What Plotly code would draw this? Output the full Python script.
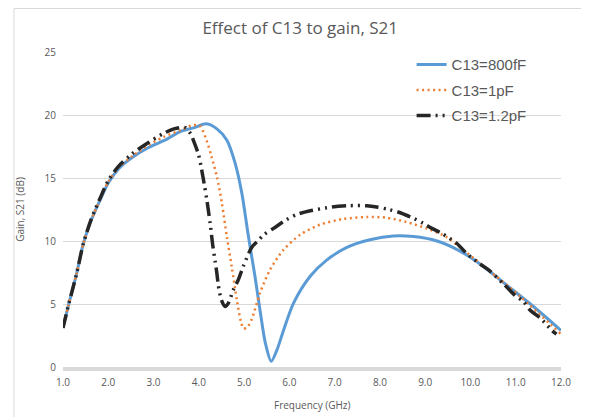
import plotly.graph_objects as go

title_text = "Effect of C13 to gain, S21"
x_title = "Frequency (GHz)"
y_title = "Gain, S21 (dB)"

x_ticks = [1, 2, 3, 4, 5, 6, 7, 8, 9, 10, 11, 12]
x_tick_labels = ["1.0", "2.0", "3.0", "4.0", "5.0", "6.0", "7.0", "8.0", "9.0", "10.0", "11.0", "12.0"]
y_ticks = [0, 5, 10, 15, 20, 25]

names = ["C13=800fF", "C13=1pF", "C13=1.2pF"]

freq_800f = [1.0, 1.12, 1.3, 1.45, 1.63, 1.82, 2.0, 2.22, 2.52, 2.88, 3.25, 3.6, 3.9, 4.17,
             4.4, 4.62, 4.8, 4.95, 5.09, 5.24, 5.36, 5.47, 5.6, 5.72, 5.87, 6.09, 6.46,
             6.83, 7.27, 7.78, 8.3, 8.74, 9.26, 9.77, 10.28, 10.8, 11.39, 12.0]
gain_800f = [3.1, 4.9, 7.4, 9.8, 11.7, 13.25, 14.6, 15.7, 16.6, 17.4, 18.0, 18.7, 19.0, 19.3,
             18.9, 18.0, 16.2, 13.8, 10.5, 7.2, 4.3, 1.9, 0.45, 1.3, 2.9, 5.05, 7.2,
             8.5, 9.5, 10.1, 10.4, 10.35, 10.0, 9.2, 8.0, 6.5, 4.8, 2.9]

freq_1p = [1.0, 1.12, 1.3, 1.45, 1.63, 1.82, 2.0, 2.22, 2.52, 2.88, 3.25, 3.6, 3.88, 4.03,
           4.17, 4.28, 4.4, 4.51, 4.62, 4.73, 4.84, 4.93, 4.99, 5.08, 5.17, 5.35, 5.57,
           5.87, 6.24, 6.68, 7.19, 7.71, 8.15, 8.59, 9.03, 9.48, 9.77, 10.36, 11.1, 12.0]
gain_1p = [3.1, 4.9, 7.4, 9.8, 11.7, 13.3, 14.7, 15.8, 16.7, 17.6, 18.3, 18.8, 19.2, 19.1,
           18.0, 16.7, 15.1, 13.0, 10.3, 7.9, 5.3, 3.6, 3.05, 3.2, 3.8, 5.85, 7.7,
           9.3, 10.5, 11.3, 11.75, 11.9, 11.85, 11.5, 11.0, 10.3, 9.5, 7.8, 5.6, 2.6]

freq_1p2 = [1.0, 1.12, 1.3, 1.45, 1.63, 1.82, 2.0, 2.22, 2.52, 2.88, 3.2, 3.45, 3.7, 3.82,
            3.9, 3.99, 4.05, 4.12, 4.18, 4.25, 4.31, 4.36, 4.4, 4.43, 4.5, 4.58, 4.65,
            4.76, 4.87, 4.98, 5.17, 5.3, 5.44, 5.65, 5.94, 6.16, 6.46, 6.94, 7.3, 7.71,
            7.93, 8.19, 8.4, 8.74, 8.96, 9.15, 9.37, 9.7, 9.92, 10.2, 10.4, 10.73, 10.98,
            11.17, 11.32, 11.54, 11.8, 11.9]
gain_1p2 = [3.1, 4.9, 7.4, 9.8, 11.8, 13.4, 14.8, 15.9, 16.9, 17.8, 18.5, 18.9, 19.0, 18.5,
            17.8, 16.9, 15.9, 14.5, 13.2, 11.4, 9.6, 8.4, 7.4, 6.5, 5.3, 4.8, 5.05,
            6.1, 6.9, 7.96, 9.5, 10.0, 10.5, 11.0, 11.7, 12.1, 12.4, 12.7, 12.8, 12.8,
            12.7, 12.5, 12.3, 11.8, 11.4, 11.0, 10.6, 9.8, 9.0, 8.2, 7.7, 6.6, 5.7,
            5.2, 4.5, 3.9, 2.9, 2.6]

grey = "#595959"
fig = go.Figure()
fig.add_trace(go.Scatter(x=freq_800f, y=gain_800f, mode="lines", name=names[0],
                         line=dict(color="#5b9bd5", width=3, shape="spline", smoothing=0.8),
                         legendgroup="a"))
fig.add_trace(go.Scatter(x=freq_1p, y=gain_1p, mode="lines", name=names[1],
                         line=dict(color="#ed7d31", width=2.5, dash="2px,3.5px", shape="spline", smoothing=0.8),
                         legendgroup="b"))
fig.add_trace(go.Scatter(x=freq_1p2, y=gain_1p2, mode="lines", name=names[2],
                         line=dict(color="#262626", width=3.5, dash="14px,5px,2px,5px,2px,5px", shape="spline", smoothing=0.8),
                         legendgroup="c"))

W, H = 581, 409
L, R, T, B = 55, 28, 44, 50
PW, PH = W - L - R, H - T - B

fig.update_layout(
    width=W, height=H,
    margin=dict(l=L, r=R, t=T, b=B, autoexpand=False),
    paper_bgcolor="white", plot_bgcolor="white",
    font=dict(family="Open Sans, sans-serif", color=grey),
    title=dict(text=title_text, x=0.503, xanchor="center", y=1 - 20 / H, yanchor="middle",
               font=dict(size=17, color=grey, family="Open Sans, sans-serif")),
    showlegend=True,
    legend=dict(x=0.70, xanchor="left", y=1.012, yanchor="top", bgcolor="rgba(0,0,0,0)",
                font=dict(size=15, color=grey, family="Liberation Sans, Arial, sans-serif"),
                traceorder="grouped", tracegroupgap=3, itemwidth=30),
    xaxis=dict(range=[1, 12], tickmode="array", tickvals=x_ticks, ticktext=x_tick_labels,
               showgrid=False, zeroline=False, showline=True, linecolor="#d9d9d9", linewidth=4,
               ticks="", ticklabelstandoff=3, automargin=False,
               tickfont=dict(size=10, color=grey, family="Open Sans, sans-serif")),
    yaxis=dict(range=[0, 25], tickmode="array", tickvals=y_ticks,
               showgrid=True, gridcolor="#d9d9d9", gridwidth=1, zeroline=False, showline=False,
               ticks="", ticklabelstandoff=6, automargin=False,
               tickfont=dict(size=10, color=grey, family="Open Sans, sans-serif"),
               title=dict(text=y_title, font=dict(size=10, color=grey, family="Open Sans, sans-serif"), standoff=18)),
    annotations=[dict(text=x_title, xref="paper", yref="paper", x=0.5, y=-38 / PH,
                      xanchor="center", yanchor="middle", showarrow=False,
                      font=dict(size=10, color=grey, family="Open Sans, sans-serif"))],
    shapes=[dict(type="rect", xref="paper", yref="paper",
                 x0=(6 - L) / PW, x1=(575 - L) / PW, y0=-(B + 2) / PH, y1=(PH + T - 0.5) / PH,
                 line=dict(color="#d9d9d9", width=1), fillcolor="rgba(0,0,0,0)", layer="below")],
)

fig.write_html("out.html")
